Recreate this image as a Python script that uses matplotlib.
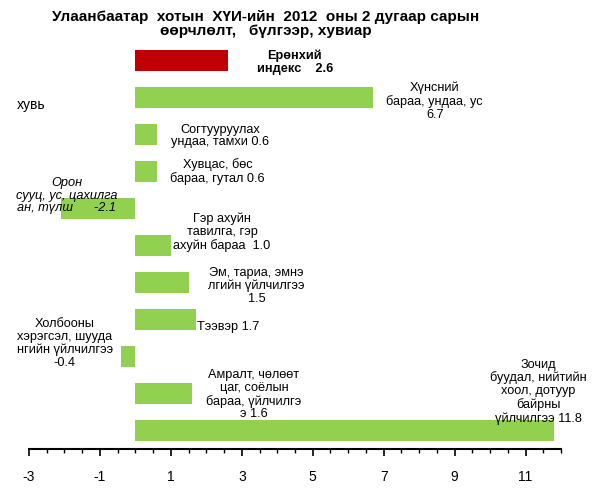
import matplotlib
matplotlib.use("Agg")
import matplotlib.pyplot as plt
from matplotlib.ticker import MultipleLocator

plt.rcParams['font.family'] = ['Liberation Sans', 'DejaVu Sans']
plt.rcParams['axes.unicode_minus'] = False

categories = [
    "Ерөнхий индекс",
    "Хүнсний бараа, ундаа, ус",
    "Согтууруулах ундаа, тамхи",
    "Хувцас, бөс бараа, гутал",
    "Орон сууц, ус, цахилгаан, түлш",
    "Гэр ахуйн тавилга, гэр ахуйн бараа",
    "Эм, тариа, эмнэлгийн үйлчилгээ",
    "Тээвэр",
    "Холбооны хэрэгсэл, шуудангийн үйлчилгээ",
    "Амралт, чөлөөт цаг, соёлын бараа, үйлчилгээ",
    "Зочид буудал, нийтийн хоол, дотуур байрны үйлчилгээ",
]
values = [2.6, 6.7, 0.6, 0.6, -2.1, 1.0, 1.5, 1.7, -0.4, 1.6, 11.8]
labels = [
    "Ерөнхий\nиндекс    2.6",
    "Хүнсний\nбараа, ундаа, ус\n6.7",
    "Согтууруулах\nундаа, тамхи 0.6",
    "Хувцас, бөс\nбараа, гутал 0.6",
    "Орон\nсууц, ус, цахилга\nан, түлш      -2.1",
    "Гэр ахуйн\nтавилга, гэр\nахуйн бараа  1.0",
    "Эм, тариа, эмнэ\nлгийн үйлчилгээ\n1.5",
    "Тээвэр 1.7",
    "Холбооны\nхэрэгсэл, шууда\nнгийн үйлчилгээ\n-0.4",
    "Амралт, чөлөөт\nцаг, соёлын\nбараа, үйлчилгэ\nэ 1.6",
    "Зочид\nбуудал, нийтийн\nхоол, дотуур\nбайрны\nүйлчилгээ 11.8",
]
# label anchor (x in data units, y in bar-index units)
label_pos = [
    (4.49, 0.05), (8.44, 1.11), (2.38, 2.04), (2.32, 3.01), (-1.93, 3.65),
    (2.44, 4.65), (3.42, 6.1), (1.73, 7.2), (-1.99, 7.65), (3.34, 9.03), (11.35, 8.95),
]
colors = ['#C00000'] + ['#92D050'] * 10

fig = plt.figure(figsize=(5.97, 4.92), dpi=100)
ax = fig.add_axes([29/597, 1 - 449/492, (561-29)/597, (449-42)/492])

n = len(values)
ypos = list(range(n))
ax.barh(ypos, values, height=0.58, color=colors, zorder=2)
ax.set_ylim(n - 0.5, -0.5)
ax.set_xlim(-3, 12)

for i, (lab, (lx, ly)) in enumerate(zip(labels, label_pos)):
    kw = dict(fontsize=9.2, ha='center', va='center', linespacing=1.1, zorder=3)
    if i == 0:
        kw['fontweight'] = 'bold'
    if i == 4:
        kw['style'] = 'italic'
    if i == 7:
        kw['ha'] = 'left'
    ax.text(lx, ly, lab, **kw)

ax.set_xticks([-3, -1, 1, 3, 5, 7, 9, 11])
ax.xaxis.set_minor_locator(MultipleLocator(0.5))
ax.tick_params(axis='x', which='major', length=5, width=1.2, labelsize=10, pad=10)
ax.tick_params(axis='x', which='minor', length=3, width=1)
ax.set_yticks([])
for s in ['top', 'right', 'left']:
    ax.spines[s].set_visible(False)
ax.spines['bottom'].set_linewidth(1.5)

fig.text(17/597, 1 - 105/492, "хувь", fontsize=10, ha='left', va='center')
fig.text(266/597, 1 - 24/492,
         "Улаанбаатар  хотын  ХҮИ-ийн  2012  оны 2 дугаар сарын\nөөрчлөлт,   бүлгээр, хувиар",
         fontsize=11, fontweight='bold', ha='center', va='center', linespacing=1.05)

fig.savefig("out.png", dpi=100)
